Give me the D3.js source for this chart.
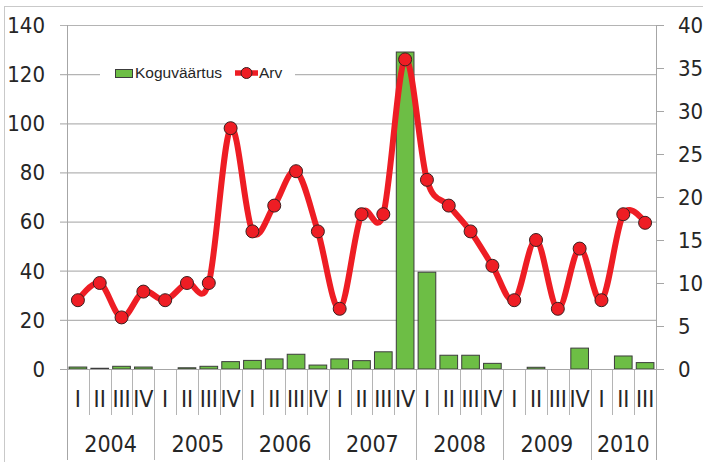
<!DOCTYPE html>
<html>
<head>
<meta charset="utf-8">
<script src="https://cdn.jsdelivr.net/npm/d3@7"></script>
<style>
  html, body { margin: 0; padding: 0; background: #fff; }
  svg { display: block; }
  .ax { font-family: "Liberation Sans Narrow", "DejaVu Sans Condensed", sans-serif; fill: #262626; }
  .lg { font-family: "Liberation Sans", Arial, sans-serif; fill: #262626; }
</style>
</head>
<body>
<svg id="chart" width="703" height="462"></svg>
<script>
// Quarterly series, 2004 I – 2010 III
const years = ["2004", "2005", "2006", "2007", "2008", "2009", "2010"];
const quarters = ["I", "II", "III", "IV"];
const yearQuarterCounts = [4, 4, 4, 4, 4, 4, 3];

// Koguväärtus (left axis)
const koguvaartus = [0.8, 0.3, 1.1, 0.8, 0, 0.5, 1.1, 3.0, 3.5, 4.1, 6.0, 1.6, 4.1, 3.4, 7.0, 129, 39.4, 5.6, 5.6, 2.3, 0, 0.7, 0, 8.5, 0, 5.3, 2.6];
// Arv (right axis)
const arv = [8, 10, 6, 9, 8, 10, 10, 28, 16, 19, 23, 16, 7, 18, 18, 36, 22, 19, 16, 12, 8, 15, 7, 14, 8, 18, 17];

const leftTicks = [0, 20, 40, 60, 80, 100, 120, 140];
const rightTicks = [0, 5, 10, 15, 20, 25, 30, 35, 40];

// category list built from the year/quarter arrays
const cats = [];
years.forEach((y, i) => {
  for (let q = 0; q < yearQuarterCounts[i]; q++) cats.push({ year: y, q: quarters[q] });
});

const svg = d3.select("#chart");
const L = 67, R = 656, T = 25, B = 369;

const x = d3.scaleBand().domain(d3.range(cats.length)).range([L, R])
  .paddingInner(0.19).paddingOuter(0.095);
const step = (R - L) / cats.length;
const yL = d3.scaleLinear().domain([0, 140]).range([B, T]);
const yR = d3.scaleLinear().domain([0, 40]).range([B, T]);

// outer frame
svg.append("rect").attr("x", 4.5).attr("y", 6.5).attr("width", 720).attr("height", 480)
  .attr("fill", "none").attr("stroke", "#c9c9c9");

// horizontal gridlines with left ticks
const gridAxis = d3.axisLeft(yL).tickValues(leftTicks).tickSize(-(R - L)).tickPadding(0).tickFormat("");
const g = svg.append("g").attr("transform", `translate(${L},0)`).call(gridAxis);
g.select(".domain").remove();
g.selectAll(".tick line").attr("stroke", "#b4b4b4").attr("x1", -7).attr("stroke-width", 1.2);

// left labels
svg.append("g").selectAll("text").data(leftTicks).join("text")
  .attr("class", "ax").attr("x", 45).attr("y", d => yL(d)).attr("dy", "0.36em")
  .attr("text-anchor", "end").attr("font-size", 22).text(d => d);

// right axis line, ticks, labels
const rAxis = d3.axisRight(yR).tickValues(rightTicks).tickSize(8).tickFormat("");
const rg = svg.append("g").attr("transform", `translate(${R},0)`).call(rAxis);
rg.select(".domain").remove();
rg.selectAll(".tick line").attr("stroke", "#a6a6a6");
svg.append("line").attr("x1", R + 0.5).attr("x2", R + 0.5).attr("y1", T).attr("y2", 460)
  .attr("stroke", "#a6a6a6");
svg.append("g").selectAll("text").data(rightTicks).join("text")
  .attr("class", "ax").attr("x", 678).attr("y", d => yR(d)).attr("dy", "0.36em")
  .attr("text-anchor", "start").attr("font-size", 22).text(d => d);

// left axis line
svg.append("line").attr("x1", L + 0.5).attr("x2", L + 0.5).attr("y1", T).attr("y2", 460)
  .attr("stroke", "#a6a6a6");

// category separators: short between quarters, long between years
const yearStarts = [];
let acc = 0;
yearQuarterCounts.forEach(c => { yearStarts.push(acc); acc += c; });
d3.range(1, cats.length).forEach(i => {
  const long = yearStarts.includes(i);
  const xx = Math.round(L + i * step) + 0.5;
  svg.append("line").attr("x1", xx).attr("x2", xx).attr("y1", B).attr("y2", long ? 460 : 415)
    .attr("stroke", "#b4b4b4");
});

// quarter labels
svg.append("g").selectAll("text").data(cats).join("text")
  .attr("class", "ax").attr("x", (d, i) => x(i) + x.bandwidth() / 2).attr("y", 407)
  .attr("text-anchor", "middle").attr("font-size", 23).text(d => d.q);

// year labels
svg.append("g").selectAll("text").data(years).join("text")
  .attr("class", "ax")
  .attr("x", (d, i) => L + (yearStarts[i] + yearQuarterCounts[i] / 2) * step)
  .attr("y", 452).attr("text-anchor", "middle").attr("font-size", 23).text(d => d);

// bars
svg.append("g").selectAll("rect").data(koguvaartus).join("rect")
  .attr("x", (d, i) => x(i)).attr("width", x.bandwidth())
  .attr("y", d => yL(d)).attr("height", d => B - yL(d))
  .attr("fill", "#6dbe45").attr("stroke", "#3c3c3c").attr("stroke-width", 1)
  .attr("display", d => d > 0 ? null : "none");

// baseline
svg.append("line").attr("x1", L - 7).attr("x2", R).attr("y1", B + 0.5).attr("y2", B + 0.5)
  .attr("stroke", "#a6a6a6").attr("stroke-width", 1.2);

// smoothed line
const line = d3.line().x((d, i) => x(i) + x.bandwidth() / 2).y(d => yR(d))
  .curve(d3.curveCardinal.tension(0));
svg.append("path").datum(arv).attr("d", line).attr("fill", "none")
  .attr("stroke", "#ee1d24").attr("stroke-width", 6).attr("stroke-linejoin", "round");
svg.append("g").selectAll("circle").data(arv).join("circle")
  .attr("cx", (d, i) => x(i) + x.bandwidth() / 2).attr("cy", d => yR(d)).attr("r", 6.5)
  .attr("fill", "#ee1d24").attr("stroke", "#3a2020").attr("stroke-width", 1);

// legend
const lg = svg.append("g");
lg.append("rect").attr("x", 100).attr("y", 60).attr("width", 195).attr("height", 26).attr("fill", "#fff");
lg.append("rect").attr("x", 115.5).attr("y", 69.5).attr("width", 17).attr("height", 8)
  .attr("fill", "#6dbe45").attr("stroke", "#3c3c3c");
lg.append("text").attr("class", "lg").attr("x", 135).attr("y", 78).attr("font-size", 15.5).text("Koguväärtus");
lg.append("line").attr("x1", 235).attr("x2", 258).attr("y1", 73).attr("y2", 73)
  .attr("stroke", "#ee1d24").attr("stroke-width", 5.5);
lg.append("circle").attr("cx", 246.5).attr("cy", 73).attr("r", 5.5)
  .attr("fill", "#ee1d24").attr("stroke", "#3a2020");
lg.append("text").attr("class", "lg").attr("x", 259).attr("y", 78).attr("font-size", 15.5).text("Arv");
</script>
</body>
</html>
